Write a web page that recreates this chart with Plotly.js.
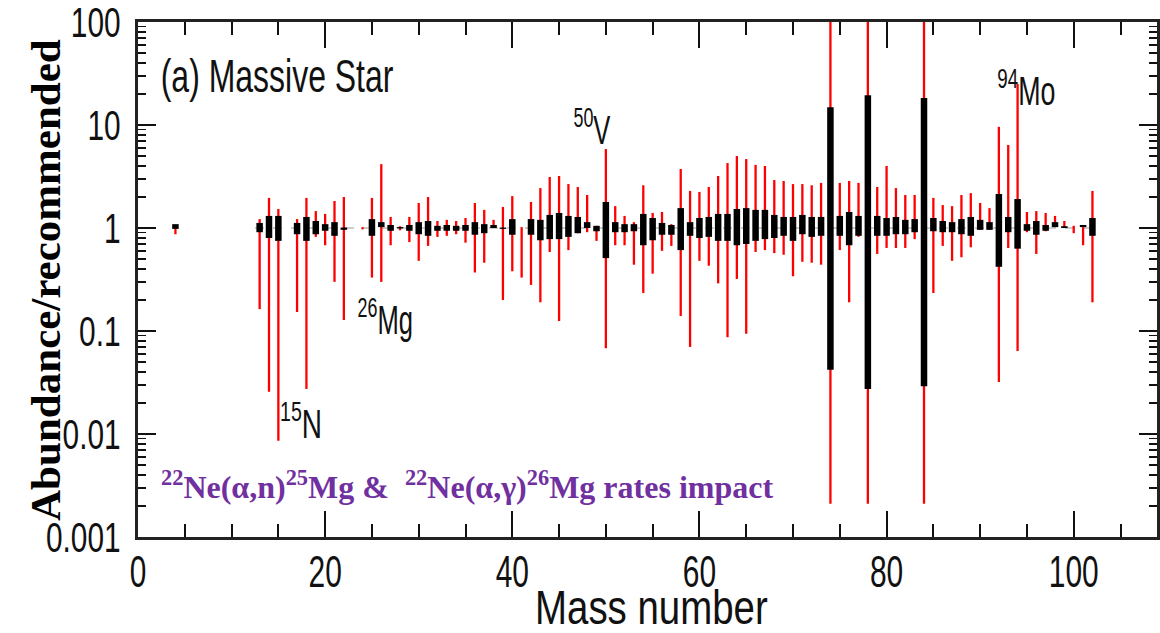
<!DOCTYPE html>
<html>
<head>
<meta charset="utf-8">
<script src="https://cdn.plot.ly/plotly-3.0.1.min.js"></script>
<style>
  html, body { margin: 0; padding: 0; background: #fff; }
  #chart { width: 1160px; height: 633px; }
</style>
</head>
<body>
<div id="chart"></div>
<script>
// Mass numbers of the isotopes shown
const massNumber = [4, 13, 14, 15, 17, 18, 19, 20, 21, 22, 24, 25, 26, 27, 28, 29, 30, 31, 32,
  33, 34, 35, 36, 37, 38, 39, 40, 41, 42, 43, 44, 45, 46, 47, 48, 49, 50, 51, 52, 53,
  54, 55, 56, 57, 58, 59, 60, 61, 62, 63, 64, 65, 66, 67, 68, 69, 70, 71, 72, 73,
  74, 75, 76, 77, 78, 79, 80, 81, 82, 83, 84, 85, 86, 87, 88, 89, 90, 91, 92, 93,
  94, 95, 96, 97, 98, 99, 100, 101, 102];

// Full range of abundance ratios (red lines)
const rangeLow = [0.87, 0.163, 0.0257, 0.0086, 0.153, 0.0274, 0.82, 0.68, 0.30, 0.128, 0.97, 0.33, 0.30, 0.68, 0.95, 0.73, 0.48, 0.67, 0.82,
  0.84, 0.87, 0.72, 0.37, 0.46, 1.0, 0.20, 0.38, 0.33, 0.28, 0.19, 0.585, 0.125, 0.61, 0.89, 0.91, 0.75, 0.068, 0.68, 0.68, 0.44,
  0.234, 0.36, 0.60, 0.67, 0.14, 0.070, 0.48, 0.43, 0.29, 0.087, 0.32, 0.094, 0.585, 0.61, 0.57, 0.55, 0.34, 0.47, 0.46, 0.44,
  0.0021, 0.61, 0.19, 0.82, 0.0021, 0.56, 0.64, 0.64, 0.64, 0.78, 0.0021, 0.234, 0.67, 0.48, 0.52, 0.65, 0.96, 0.96, 0.032, 0.64,
  0.064, 0.91, 0.56, 0.93, 1.02, 1.0, 0.89, 0.68, 0.19];
const rangeHigh = [1.0, 1.22, 1.96, 1.53, 1.22, 1.96, 1.46, 1.37, 1.83, 2.0, 1.02, 1.96, 4.17, 1.28, 1.04, 1.28, 1.75, 2.0, 1.17,
  1.2, 1.17, 1.25, 1.75, 1.5, 1.2, 1.6, 2.04, 1.02, 1.79, 2.44, 3.13, 3.2, 2.67, 2.5, 2.09, 1.05, 5.84, 1.63, 1.31, 1.14,
  2.6, 1.4, 1.43, 1.09, 3.74, 2.29, 2.24, 2.5, 3.2, 4.27, 5.0, 4.67, 4.1, 4.0, 2.92, 2.86, 2.67, 2.67, 2.6, 2.74,
  200, 2.74, 2.86, 2.74, 200, 2.5, 4.0, 2.44, 2.09, 2.09, 200, 1.96, 1.67, 1.63, 2.09, 2.18, 1.75, 1.56, 9.6, 6.4,
  25, 1.43, 1.46, 1.4, 1.31, 1.17, 1.05, 1.02, 2.29];

// Central spread (black bars); null where no bar is drawn
const coreLow = [0.98, 0.91, 0.80, 0.75, 0.87, 0.75, 0.87, 0.94, 0.84, 0.96, null, 0.84, 1.02, 0.94, 0.99, 0.94, 0.87, 0.84, 0.94,
  0.94, 0.94, 0.94, 0.86, 0.89, 1.0, 0.98, 0.86, null, 0.86, 0.76, 0.78, 0.78, 0.82, 0.89, 1.0, 0.93, 0.51, 0.91, 0.91, 0.93,
  0.68, 0.76, 0.86, 0.86, 0.61, 0.84, 0.80, 0.82, 0.75, 0.75, 0.68, 0.70, 0.75, 0.78, 0.80, 0.84, 0.75, 0.87, 0.82, 0.84,
  0.042, 0.84, 0.68, 0.84, 0.0274, 0.84, 0.84, 0.87, 0.87, 0.91, 0.029, 0.93, 0.91, 0.91, 0.87, 0.84, 0.96, 0.96, 0.42, 0.91,
  0.63, 0.94, 0.86, 0.94, 1.02, 1.0, null, 1.02, 0.84];
const coreHigh = [1.09, 1.12, 1.31, 1.31, 1.12, 1.28, 1.17, 1.09, 1.14, 1.01, null, 1.22, 1.14, 1.07, 1.02, 1.07, 1.14, 1.17, 1.05,
  1.07, 1.05, 1.07, 1.14, 1.09, 1.07, 1.01, 1.22, null, 1.22, 1.2, 1.34, 1.4, 1.31, 1.28, 1.14, 1.05, 1.79, 1.14, 1.09, 1.09,
  1.37, 1.25, 1.12, 1.07, 1.56, 1.14, 1.25, 1.28, 1.37, 1.37, 1.53, 1.56, 1.5, 1.5, 1.34, 1.28, 1.28, 1.34, 1.28, 1.28,
  14.9, 1.31, 1.43, 1.31, 19.5, 1.31, 1.25, 1.28, 1.2, 1.22, 18.3, 1.25, 1.17, 1.14, 1.22, 1.28, 1.2, 1.14, 2.14, 1.28,
  1.91, 1.09, 1.17, 1.07, 1.14, 1.04, null, 1.07, 1.25];

// Axis tick values and their labels
const yTickVals = [0.001, 0.01, 0.1, 1, 10, 100];
const yTickText = ['0.001', '0.01', '0.1', '1', '10', '100'];

// Turn low/high pairs into vertical segments separated by gaps
function segments(xs, lo, hi) {
  const x = [], y = [];
  xs.forEach((a, i) => {
    if (lo[i] == null || hi[i] == null) return;
    x.push(a, a, null);
    y.push(lo[i], hi[i], null);
  });
  return { x, y };
}

const red = segments(massNumber, rangeLow, rangeHigh);
const core = segments(massNumber, coreLow, coreHigh);

const traces = [
  { type: 'scatter', mode: 'lines', x: red.x, y: red.y, connectgaps: false,
    line: { color: '#ff0000', width: 2.3 }, hoverinfo: 'skip', showlegend: false },
  { type: 'scatter', mode: 'lines', x: core.x, y: core.y, connectgaps: false,
    line: { color: '#000000', width: 6.5 }, hoverinfo: 'skip', showlegend: false }
];

const W = 1160, H = 633;
const M = { l: 138, r: 3, t: 22, b: 96 };
// pixel -> paper helpers for text placement
const px = v => (v - M.l) / (W - M.l - M.r);
const py = v => (H - M.b - v) / (H - M.t - M.b);

const helv = 'Liberation Sans, Arial, Helvetica, sans-serif';
const times = 'Liberation Serif, Times New Roman, serif';

function label(text, x, y, size, extra) {
  return Object.assign({ text, xref: 'paper', yref: 'paper', x: px(x), y: py(y),
    xanchor: 'center', yanchor: 'middle', showarrow: false,
    font: { family: helv, size, color: '#111' } }, extra || {});
}

const layout = {
  width: W, height: H,
  margin: M,
  paper_bgcolor: '#fff', plot_bgcolor: '#fff',
  font: { family: helv, color: '#111' },
  xaxis: {
    range: [0, 108.9], dtick: 20, tick0: 0,
    ticks: 'inside', ticklen: 26, tickwidth: 2, tickcolor: '#111',
    minor: { dtick: 5, ticks: 'inside', ticklen: 13, tickwidth: 2, tickcolor: '#111' },
    showline: true, linewidth: 3, linecolor: '#222', mirror: 'ticks',
    showgrid: false, zeroline: false,
    tickfont: { family: helv, size: 44, color: '#111' },
    ticklabelstandoff: -6, ticklabeloverflow: 'allow'
  },
  yaxis: {
    type: 'log', range: [-3, 2],
    tickmode: 'array', tickvals: yTickVals, ticktext: yTickText,
    ticks: 'inside', ticklen: 18, tickwidth: 2, tickcolor: '#111',
    minor: { ticks: 'inside', ticklen: 8, tickwidth: 1.5, tickcolor: '#111', dtick: 'D1' },
    showline: true, linewidth: 3, linecolor: '#222', mirror: 'ticks',
    showgrid: false, zeroline: false,
    tickfont: { family: helv, size: 42, color: '#111' },
    ticklabelstandoff: 6, ticklabeloverflow: 'allow'
  },
  shapes: [
    { type: 'line', layer: 'below', xref: 'x', yref: 'y', x0: 12.5, x1: 102.5, y0: 1, y1: 1,
      line: { color: '#9a9a9a', width: 1, dash: 'dash' } }
  ],
  annotations: [
    label('(a) Massive Star', 277, 76, 47),
    label('<sup>15</sup>N', 301, 421, 40),
    label('<sup>26</sup>Mg', 385, 317, 40),
    label('<sup>50</sup>V', 592, 127, 40),
    label('<sup>94</sup>Mo', 1026, 88, 40),
    label('Mass number', 651, 607, 48),
    { text: '<sup>22</sup>Ne(α,n)<sup>25</sup>Mg &amp;  <sup>22</sup>Ne(α,γ)<sup>26</sup>Mg rates impact',
      xref: 'paper', yref: 'paper', x: px(159), y: py(485),
      xanchor: 'left', yanchor: 'middle', showarrow: false,
      font: { family: times, size: 32, color: '#7030a0', weight: 'bold' } },
    { text: 'Abundance/recommended', xref: 'paper', yref: 'paper', x: px(45), y: py(280),
      xanchor: 'center', yanchor: 'middle', textangle: -90, showarrow: false,
      font: { family: times, size: 43, color: '#000', weight: 'bold' } }
  ]
};

// The sans-serif lettering of the plot is set in a tall, narrow face:
// compress those text runs horizontally while keeping them as text.
function narrow(el, f) {
  const w = el.getComputedTextLength();
  if (!w) return;
  el.setAttribute('textLength', (w * f).toFixed(1));
  el.setAttribute('lengthAdjust', 'spacingAndGlyphs');
}

// horizontal compression for each sans-serif annotation, by index
const squeeze = [0.68, 0.70, 0.64, 0.64, 0.67, 0.8];

Plotly.newPlot('chart', traces, layout, { staticPlot: true, displayModeBar: false }).then(gd => {
  gd.querySelectorAll('.xtick text').forEach(t => narrow(t, 0.68));
  gd.querySelectorAll('.ytick text').forEach(t => narrow(t, 0.71));
  squeeze.forEach((f, i) => {
    const t = gd.querySelector('.annotation[data-index="' + i + '"] text');
    if (t) narrow(t, f);
  });
});
</script>
</body>
</html>
